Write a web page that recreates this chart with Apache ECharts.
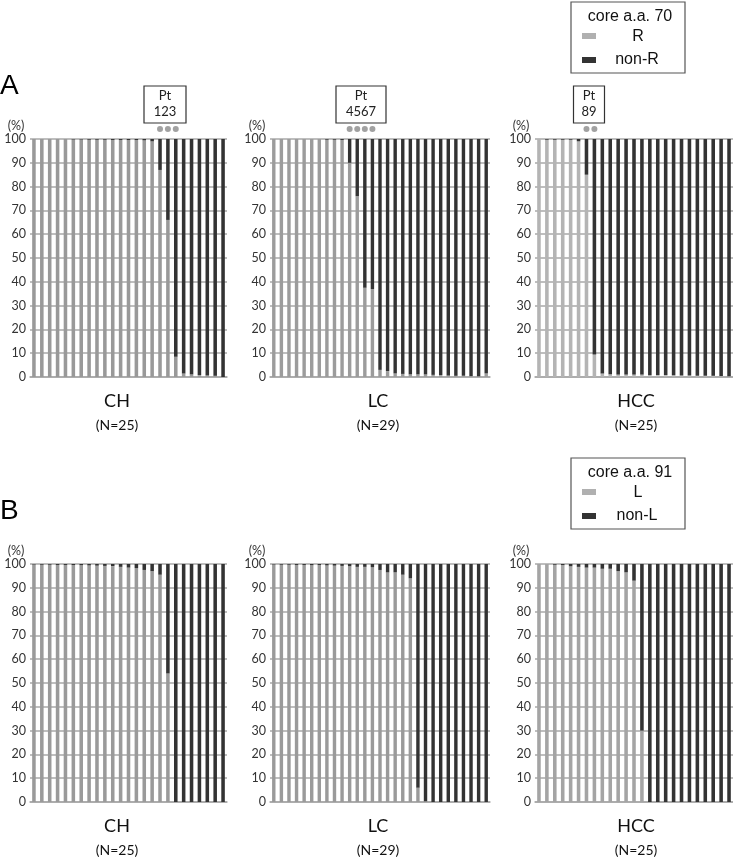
<!DOCTYPE html>
<html>
<head>
<meta charset="utf-8">
<script src="https://cdn.jsdelivr.net/npm/echarts@6/dist/echarts.min.js"></script>
<style>
html,body{margin:0;padding:0;background:#fff;}
#chart{width:733px;height:860px;}
</style>
</head>
<body>
<div id="chart"></div>
<script>
// ---- data: % of majority residue per patient (light part); dark part = 100 - value ----
const yTicks = [0,10,20,30,40,50,60,70,80,90,100];
const groupNames = ['CH','LC','HCC'];
const groupN = ['(N=25)','(N=29)','(N=25)'];

const a_CH  = [100,100,100,100,100,99.8,99.8,99.7,99.7,99.7,99.6,99.6,99.5,99.5,99.4,99,87,66,8.5,1.5,1,0.8,0.6,0.5,0];
const a_LC  = [100,100,100,100,100,100,100,99.7,99.7,99.6,90,76,37.5,37,3,2.5,1.5,1.3,1.2,1.1,1,0.9,0.8,0.6,0.5,0.5,0.4,0.3,1.5];
const a_HCC = [100,99.7,99.7,99.7,99.7,99,85,9.5,1.5,1.2,1,1,1,1,0.8,0.8,0.8,0.7,0.6,0.6,0.5,0.5,0.5,0.4,0.3];

const b_CH  = [99.8,99.7,99.7,99.6,99.6,99.5,99.5,99.4,99.3,99.2,99.1,98.8,98.5,98.3,97.5,97,95.5,54,0,0,0,0,0,0,0];
const b_LC  = [99.8,99.7,99.7,99.6,99.6,99.5,99.5,99.4,99.3,99.2,99,98.8,98.8,98.7,97.5,96.5,96.5,95.5,94,6,0.3,0,0,0,0,0,0,0,0];
const b_HCC = [100,100,99.7,99.5,99,98.8,98.5,98.5,98,98,97,96.5,93,30,0,0,0,0,0,0,0,0,0,0,0];

// highlighted patients (dots) and their labels
const a_ptIdx = [[16,17,18],[10,11,12,13],[6,7]];
const a_ptLabels = ['123','4567','89'];

const legendA = ['core a.a. 70','R','non-R'];
const legendB = ['core a.a. 91','L','non-L'];

// ---- layout ----
const gx = [{left:30,width:197},{left:270,width:220},{left:535,width:198}];
const rowTop = [139,564];
const gridH = 238;
const lightColors = [['#999999','#9c9c9c','#b4b4b4'],['#9a9a9a','#9a9a9a','#a4a4a4']];
const dark = '#333333';
const font = 'Lato, "Open Sans", sans-serif';
const lfont = '"Liberation Sans", Arial, sans-serif';

const rows = [[a_CH,a_LC,a_HCC],[b_CH,b_LC,b_HCC]];
const grids=[], xAxes=[], yAxes=[], series=[];
let k=0;
rows.forEach((row,r)=>{
  row.forEach((vals,c)=>{
    grids.push({left:gx[c].left, width:gx[c].width, top:rowTop[r], height:gridH});
    xAxes.push({type:'category', gridIndex:k, data:vals.map((_,i)=>i+1),
      axisLine:{show:true,lineStyle:{color:'#a8a8a8',width:1.5}}, axisTick:{show:false}, axisLabel:{show:false}});
    yAxes.push({type:'value', gridIndex:k, min:0, max:100, interval:10,
      axisLine:{show:false}, axisTick:{show:false},
      splitLine:{show:true,lineStyle:{color:'#a8a8a8',width:1.5}},
      axisLabel:{color:'#333',fontSize:12.5,fontFamily:font,margin:4,
        formatter:v=>yTicks.includes(v)?String(v):''}});
    series.push({type:'bar', xAxisIndex:k, yAxisIndex:k, stack:'s'+k, barWidth:'45%',
      itemStyle:{color:lightColors[r][c]}, data:vals, silent:true});
    series.push({type:'bar', xAxisIndex:k, yAxisIndex:k, stack:'s'+k, barWidth:'45%',
      itemStyle:{color:dark}, data:vals.map(v=>+(100-v).toFixed(2)), silent:true});
    if(r===0){
      series.push({type:'scatter', xAxisIndex:k, yAxisIndex:k, clip:false, symbolSize:6,
        itemStyle:{color:'#8a8a8a'}, data:a_ptIdx[c].map(i=>[i,104.2]), silent:true});
    }
    k++;
  });
});

const graphic=[];
// panel letters
graphic.push({type:'text',left:0,top:72,style:{text:'A',fontSize:28,fontFamily:lfont,fill:'#000'}});
graphic.push({type:'text',left:0,top:497,style:{text:'B',fontSize:28,fontFamily:lfont,fill:'#000'}});
// (%) labels and group labels
const pctX=[16,257,521];
rows.forEach((row,r)=>{
  pctX.forEach(x=>{
    graphic.push({type:'text',x:x,y:rowTop[r]-13,style:{text:'(%)',fontSize:12.5,fontFamily:font,fill:'#333',align:'center',verticalAlign:'middle'}});
  });
  groupNames.forEach((g,c)=>{
    const cx = [117,378,636][c];
    graphic.push({type:'text',x:cx,y:rowTop[r]+262,style:{text:g,fontSize:18,fontFamily:font,fill:'#111',align:'center',verticalAlign:'middle'}});
    graphic.push({type:'text',x:cx,y:rowTop[r]+286,style:{text:groupN[c],fontSize:14,fontFamily:font,fill:'#111',align:'center',verticalAlign:'middle'}});
  });
});
// Pt boxes
const ptBox=[{cx:165,w:42},{cx:361,w:50},{cx:589,w:31}];
ptBox.forEach((b,c)=>{
  graphic.push({type:'rect',shape:{x:b.cx-b.w/2,y:86,width:b.w,height:37},style:{fill:'#fff',stroke:'#333',lineWidth:1.2}});
  graphic.push({type:'text',x:b.cx,y:96,style:{text:'Pt',fontSize:13,fontFamily:font,fill:'#222',align:'center',verticalAlign:'middle'}});
  graphic.push({type:'text',x:b.cx,y:112,style:{text:a_ptLabels[c],fontSize:13,fontFamily:font,fill:'#222',align:'center',verticalAlign:'middle'}});
});
// legends
function legend(top, labels){
  graphic.push({type:'rect',shape:{x:571,y:top,width:114,height:71},style:{fill:'#fff',stroke:'#555',lineWidth:1.2}});
  graphic.push({type:'text',x:630,y:top+15,style:{text:labels[0],fontSize:16,fontFamily:lfont,fill:'#111',align:'center',verticalAlign:'middle'}});
  graphic.push({type:'rect',shape:{x:582,y:top+31,width:14,height:6},style:{fill:'#b0b0b0'}});
  graphic.push({type:'text',x:638,y:top+35,style:{text:labels[1],fontSize:16,fontFamily:lfont,fill:'#111',align:'center',verticalAlign:'middle'}});
  graphic.push({type:'rect',shape:{x:582,y:top+55,width:14,height:6},style:{fill:'#333'}});
  graphic.push({type:'text',x:637,y:top+58,style:{text:labels[2],fontSize:16,fontFamily:lfont,fill:'#111',align:'center',verticalAlign:'middle'}});
}
legend(2, legendA);
legend(458, legendB);

const chart = echarts.init(document.getElementById('chart'));
chart.setOption({animation:false, backgroundColor:'#fff', grid:grids, xAxis:xAxes, yAxis:yAxes, series:series, graphic:graphic});
</script>
</body>
</html>
